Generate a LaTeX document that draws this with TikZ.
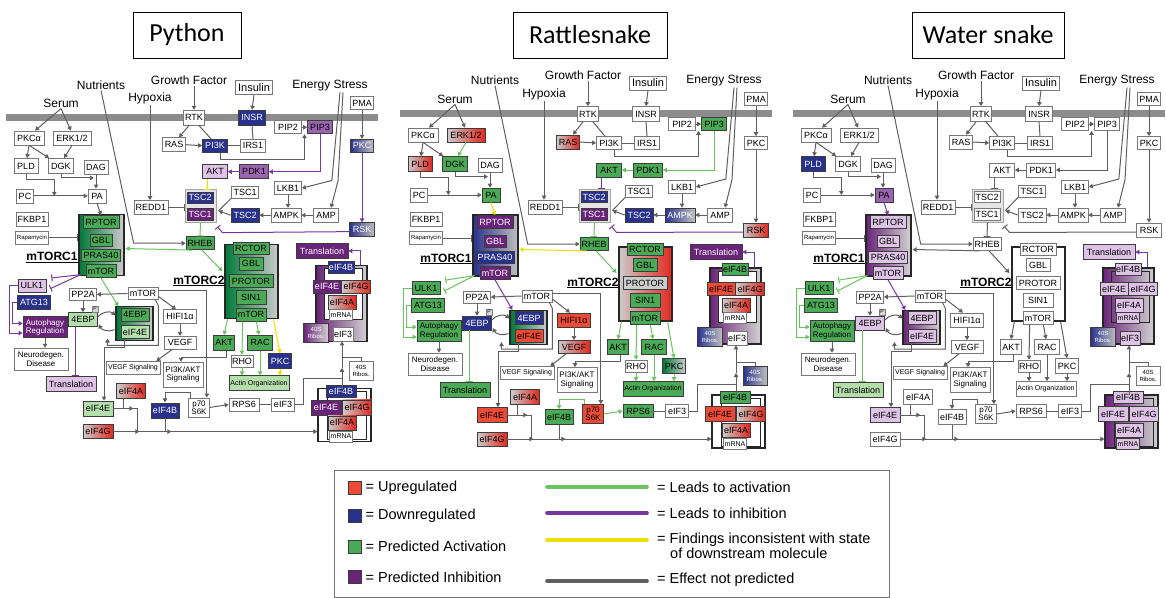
\documentclass[tikz,border=0pt]{standalone}
\usepackage{fontspec}
\setmainfont{Liberation Sans}
\newfontfamily\tfont{Carlito}
\usetikzlibrary{arrows.meta,calc}
\definecolor{cBord}{RGB}{120,120,120}
\definecolor{cDk}{RGB}{60,60,60}
\definecolor{cAct}{RGB}{75,170,85}
\definecolor{cActL}{RGB}{180,222,172}
\definecolor{cActD}{RGB}{0,120,55}
\definecolor{cDn}{RGB}{40,50,140}
\definecolor{cInh}{RGB}{105,35,120}
\definecolor{cInhM}{RGB}{155,100,175}
\definecolor{cInhL}{RGB}{222,195,230}
\definecolor{cUp}{RGB}{225,40,30}
\definecolor{cUpF}{RGB}{235,75,55}
\definecolor{cLine}{RGB}{95,95,95}
\definecolor{cG}{RGB}{105,195,95}
\definecolor{cP}{RGB}{120,55,160}
\definecolor{cY}{RGB}{235,225,0}
\definecolor{cBar}{RGB}{140,140,140}
\newcommand\fs[2]{\fontsize{#1}{#2}\selectfont}
\newcommand\pf{}
\newcommand\nd[6][]{\node[bx,minimum width=#4,minimum height=#5,#1,s#2/.try] (\pf#2) at (#3) {#6};}
\tikzset{
 bx/.style={draw=cBord,fill=white,line width=0.7pt,inner sep=1pt,font=\fs{9}{10},text=black},
 cx/.style={draw=black!85,fill=white,line width=1.1pt,inner sep=0pt},
 cxi/.style={draw=black!85,fill=white,line width=0.8pt,inner sep=0pt},
 lab/.style={font=\fs{12}{13},inner sep=1pt},
 act/.style={fill=cAct,draw=cDk},
 actl/.style={fill=cActL,draw=cDk},
 actg/.style={left color=cActD,right color=gray!40,draw=cDk},
 dn/.style={fill=cDn,draw=cDk,text=white},
 dng/.style={left color=cDn,right color=gray!50,draw=cDk,text=white},
 inh/.style={fill=cInh,draw=cDk,text=white},
 inhm/.style={fill=cInhM,draw=cDk},
 inhl/.style={fill=cInhL,draw=cDk},
 inhg/.style={left color=cInh,right color=gray!35,draw=cDk},
 up/.style={left color=gray!40,right color=cUp,draw=cDk},
 upf/.style={fill=cUpF,draw=cDk},
 ln/.style={draw=cLine,line width=1pt},
 ar/.style={ln,-{Triangle[length=4pt,width=4.5pt]}},
 tb/.style={ln,-{Bar[width=7pt]}},
 grn/.style={draw=cG},
 pur/.style={draw=cP},
 yel/.style={draw=cY},
 ptag/.style={draw=gray,fill=gray!30,inner sep=0.3pt,minimum size=6,font=\fs{5}{5}},
 sq/.style={draw=cDk,line width=0.8pt,minimum size=13,inner sep=0},
 ltx/.style={font=\fs{14.5}{15.5},anchor=west,inner sep=1pt},
 lg/.style={line width=3.6pt,line cap=round},
}
\newcommand\panelbody{%
\fill[cBar] (6,110) rectangle (378,117);
\node[lab] (\pf Nutr) at (101,80) {Nutrients};
\node[lab] (\pf Serum) at (61,99) {Serum};
\node[lab] (\pf Hyp) at (150,94) {Hypoxia};
\node[lab] (\pf GF) at (189,75) {Growth Factor};
\node[lab] (\pf ES) at (330,81) {Energy Stress};
\node[cx,draw=gray!70,fill=gray!20,line width=0.9pt,minimum width=31,minimum height=33] (\pf TSCc) at (200.5,205.5) {};
\node[cx,sC1/.try,draw=black!85,minimum width=45,minimum height=61] (\pf C1) at (101.5,245.5) {};
\node[cx,sC2/.try,draw=black!85,minimum width=53,minimum height=74] (\pf C2) at (251.5,284) {};
\node[cx,sC3/.try,draw=black!85,minimum width=37,minimum height=34] (\pf C3) at (134.5,327.5) {};
\node[cx,sCu/.try,draw=black!85,minimum width=51,minimum height=76] (\pf Cu) at (341.5,306) {};
\node[cxi,sCi/.try,minimum width=38,minimum height=51] (\pf Ci) at (343,296.5) {};
\node[cx,sCl/.try,draw=black!85,minimum width=53,minimum height=53] (\pf Cl) at (344.5,421.5) {};
\node[cxi,sCli/.try,minimum width=39,minimum height=48] (\pf Cli) at (346.5,422) {};
\nd{PKCa}{29,135}{30}{14}{PKCα}
\nd{ERK}{72,135}{38}{14}{ERK1/2}
\nd{PLD}{26,164}{24}{15}{PLD}
\nd{DGK}{61,164}{25}{15}{DGK}
\nd{DAG}{96,165}{24}{14}{DAG}
\nd{PC}{25,195}{17}{14}{PC}
\nd{PA}{97,195}{18}{14}{PA}
\nd{FKBP}{32,219}{32}{14}{FKBP1}
\nd[font=\fs{6}{7}]{Rapa}{32,238}{33}{13}{Rapamycin}
\nd{REDD}{151,207}{34}{14}{REDD1}
\nd{RTK}{194,114}{21}{15}{RTK}
\nd{RAS}{174,142}{23}{14}{RAS}
\nd{PIK}{215,143}{25}{13}{PI3K}
\nd{INSR}{252,114}{27}{15}{INSR}
\nd[font=\fs{11}{12}]{Ins}{254,83}{37}{14}{Insulin}
\nd{IRS}{253,143}{25}{13}{IRS1}
\nd{PIPa}{288,124}{27}{13}{PIP2}
\nd{PIPb}{320,124}{25}{13}{PIP3}
\nd{PMA}{362,99}{23}{13}{PMA}
\nd{PKC}{362,143}{23}{13}{PKC}
\nd{AKT}{215,170}{25}{14}{AKT}
\nd{PDK}{254,170}{29}{14}{PDK1}
\nd{LKB}{288,187}{27}{13}{LKB1}
\nd{TSCb}{245,191}{27}{12}{TSC1}
\nd{TSCd}{245,215}{28}{14}{TSC2}
\nd{AMPK}{286,215}{30}{14}{AMPK}
\nd{AMP}{326,215}{25}{14}{AMP}
\nd{RSK}{362,230}{25}{14}{RSK}
\nd{TSCx}{200,197}{26}{11}{TSC2}
\nd{TSCy}{200,214}{26}{12}{TSC1}
\nd{RHEB}{200,244}{28}{13}{RHEB}
\nd{RPTOR}{101,222}{36}{13}{RPTOR}
\nd{GBL}{101,241}{22}{12}{GBL}
\nd{PRAS}{101,257}{39}{12}{PRAS40}
\nd{MTa}{101,273}{30}{13}{mTOR}
\node[font=\fs{12}{13}\bfseries,inner sep=1pt] (\pf LA) at (52,259) {\underline{mTORC1}};
\nd{RCTOR}{251,249}{36}{12}{RCTOR}
\nd{GBLb}{251,265}{24}{13}{GBL}
\nd{PROTOR}{251,283}{44}{13}{PROTOR}
\nd{SIN}{251,300}{30}{14}{SIN1}
\nd{MTb}{251,318}{30}{13}{mTOR}
\node[font=\fs{12}{13}\bfseries,inner sep=1pt] (\pf LB) at (199,283) {\underline{mTORC2}};
\nd{ULK}{32,288}{28}{13}{ULK1}
\nd{ATG}{34,305}{33}{14}{ATG13}
\nd[font=\fs{8}{8.5},align=center]{Aut}{45,331}{44}{21}{Autophagy\\Regulation}
\nd[font=\fs{8}{8.5},align=center]{Neuro}{41,364}{54}{22}{Neurodegen.\\Disease}
\nd{PP}{83,297}{27}{12}{PP2A}
\nd{MTw}{143,296}{30}{12}{mTOR}
\nd{EBPp}{83,323}{29}{14}{4EBP}
\node[ptag] (\pf Ptag) at (95,312) {P};
\nd{EBPc}{135,318}{28}{13}{4EBP}
\nd{EEc}{135,336}{28}{13}{eIF4E}
\nd{TrA}{71,390}{50}{15}{Translation}
\nd{HIF}{180,320}{33}{14}{HIFI1α}
\nd{VEGF}{180,347}{32}{13}{VEGF}
\nd[font=\fs{7}{8}]{VS}{133,373}{54}{13}{VEGF Signaling}
\nd[font=\fs{8}{8.5},align=center]{PIAS}{183,380}{40}{25}{PI3K/AKT\\Signaling}
\nd{AKTb}{224,347}{21}{15}{AKT}
\nd{RHO}{242,366}{22}{12}{RHO}
\nd{RAC}{260,347}{25}{15}{RAC}
\nd{PKCb}{280,366}{23}{15}{PKC}
\nd[font=\fs{7}{8}]{Actin}{259,389}{60}{15}{Actin Organization}
\nd{RPS}{244,411}{30}{13}{RPS6}
\nd{EIFc}{283,411}{23}{13}{eIF3}
\nd[font=\fs{8}{8},align=center]{p70}{199,414}{21}{19}{p70\\S6K}
\nd{EEa}{98,415}{30}{15}{eIF4E}
\nd{EGa}{98,439}{30}{14}{eIF4G}
\nd{EAa}{131,397}{29}{15}{eIF4A}
\nd{EBa}{165,417}{28}{15}{eIF4B}
\nd[font=\fs{6}{6.5},align=center]{RibB}{361,376}{24}{19}{40S\\Ribos.}
\nd{EBu}{341,269}{26}{12}{eIF4B}
\nd{EEu}{327,289}{28}{13}{eIF4E}
\nd{EGu}{356,289}{29}{13}{eIF4G}
\nd{EAu}{342,305}{28}{14}{eIF4A}
\nd[font=\fs{7}{8}]{MRu}{341,318}{23}{11}{mRNA}
\nd[font=\fs{6}{6.5},align=center]{RibA}{316,337}{25}{19}{40S\\Ribos.}
\nd{EIFu}{343,338}{20}{14}{eIF3}
\nd{TrB}{322,252}{52}{15}{Translation}
\nd{EBl}{341,397}{30}{12}{eIF4B}
\nd{EEl}{326,414}{30}{15}{eIF4E}
\nd{EGl}{357,414}{29}{15}{eIF4G}
\nd{EAl}{342,430}{28}{14}{eIF4A}
\nd[font=\fs{7}{8}]{MRl}{341,444}{23}{11}{mRNA}
% connectors
\draw[ar] (\pf Serum.south) -- ($(\pf PKCa.north)+(6,0)$);
\draw[ar] (\pf Serum.south) -- ($(\pf ERK.north)+(-1,0)$);
\draw[ar] (\pf PKCa.south) -- ($(\pf PLD.north)+(1,0)$);
\draw[ar] (\pf PKCa.south) -- ($(\pf DGK.north west)+(1,0)$);
\draw[ar,lERK/.try] (\pf ERK.south) -- ($(\pf DGK.north)+(3,0)$);
\draw[ar] (\pf PLD.south) -- ++(0,6) -| ($(\pf PC.east)!0.38!(\pf PA.west)$);
\draw[ar] (\pf DGK.south) |- ($(\pf PA.north)+(-3,-11)$);
\draw[ar] (\pf DAG.south) -- (\pf DAG.south |- \pf PA.north);
\draw[ar] (\pf PC.east) -- (\pf PA.west);
\draw[ar,lPA/.try] (\pf PA.south) -- (\pf RPTOR.north);
\draw[tb] (\pf Rapa.east) -- (\pf Rapa.east -| \pf C1.west);
\draw[ar] (\pf Nutr.south) -- ($(\pf RHEB.west)+(-52,0)$) -- (\pf RHEB.west);
\draw[ar] (\pf Hyp.south) -- (\pf Hyp.south |- \pf REDD.north);
\draw[tb] (\pf REDD.east) -- (\pf REDD.east -| \pf TSCc.west);
\draw[ar] (\pf GF.south -| \pf RTK.north) -- (\pf RTK.north);
\draw[ar] ($(\pf RTK.south)+(-5,0)$) -- ($(\pf RAS.north)+(5,0)$);
\draw[ln] ($(\pf RTK.south)+(5,0)$) -- ($(\pf PIK.north)+(-4,0)$);
\draw[ar] (\pf RAS.east) -- (\pf PIK.west);
\draw[ar] (\pf Ins.south) -- (\pf INSR.north);
\draw[ln] (\pf INSR.south) -- (\pf IRS.north);
\draw[ln] (\pf PIK.east) -- (\pf IRS.west);
\draw[ar] ($(\pf PIK.south)+(5,0)$) -- ++(0,7) -| ($(\pf PIPa.south east)!0.5!(\pf PIPb.south west)$);
\draw[ar] (\pf PIPa.east) -- (\pf PIPb.west);
\draw[ar,lPIP/.try] (\pf PIPb.south) |- (\pf PDK.east);
\draw[ar,lPDK/.try] (\pf PDK.west) -- (\pf AKT.east);
\draw[tb,lAKT/.try] ($(\pf AKT.south)+(-8,0)$) -- ++(0,11.5);
\draw[ar] (\pf PMA.south) -- (\pf PKC.north);
\draw[ar,lPKC/.try] (\pf PKC.south) -- (\pf RSK.north);
\draw[tb,lRSK/.try] ($(\pf RSK.west)+(0,2)$) -- ($(\pf TSCc.south east)+(6,10)$) -- ($(\pf TSCc.south east)+(1,4)$);
\draw[ar] ($(\pf ES.south)+(10,0)$) -- ($(\pf LKB.east)+(30,-8)$) -- (\pf LKB.east);
\draw[ar] ($(\pf ES.south)+(13,0)$) -- ($(\pf AMP.north)+(12,-28)$) -- ($(\pf AMP.north)+(5,0)$);
\draw[ar] (\pf LKB.south) -- (\pf LKB.south |- \pf AMPK.north);
\draw[ar] (\pf AMP.west) -- (\pf AMPK.east);
\draw[ar] (\pf AMPK.west) -- (\pf TSCd.east);
\draw[ln] (\pf TSCb.south west) -- ($(\pf TSCc.east)+(2,5)$);
\draw[ar] (\pf TSCd.west) -- ($(\pf TSCc.east)+(2,5)$);
\draw[tb,lTSC/.try] (\pf TSCc.south) -- (\pf RHEB.north);
\draw[ar,lRH1/.try] ($(\pf RHEB.south west)+(7,0)$) -- ($(\pf C1.east)+(1,4)$);
\draw[ar,lRH2/.try] ($(\pf RHEB.south)+(2,0)$) -- ($(\pf C2.west)+(-2,-11)$);
\draw[tb,lULK/.try] ($(\pf C1.south west)+(2,-1)$) -- ($(\pf ULK.north east)+(5,-1)$);
\draw[tb,lULK/.try] ($(\pf C1.south west)+(2,-1)$) -- ($(\pf ULK.east)+(4,3)$);
\draw[ar,lULK2/.try] (\pf ULK.west) -- ++(-8,0) |- ($(\pf Aut.west)+(0,6)$);
\draw[ar,lULK2/.try] (\pf ATG.west) -- ++(-5,0) |- ($(\pf Aut.west)+(0,-4)$);
\draw[ar] (\pf Aut.south) -- (\pf Aut.south |- \pf Neuro.north);
\draw[ar] (\pf MTw.west) -- (\pf PP.east);
\draw[ar] (\pf PP.south) -- (\pf EBPp.north);
\draw[ar,lmT/.try] (\pf MTa.south) -- ($(\pf C3.north west)+(3,0)$);
\draw[ar] ($(\pf EBPp.east)+(0,-3)$) to[bend left=45] ($(\pf C3.west)+(0,-9)$);
\draw[ar] ($(\pf C3.west)+(-1,6)$) to[bend left=45] ($(\pf EBPp.east)+(1,5)$);
\draw[ar] ($(\pf MTw.south east)+(-3,0)$) -- ++(3,6) |- ($(\pf C3.south west)+(-8,4)$) -- ++(0,-7);
\draw[ar] ($(\pf EEc.south)+(-11,0)$) -- ++(0,9) -| ($(\pf EEa.north)+(6,0)$);
\draw[tb,lTr/.try] ($(\pf EBPp.south)+(-8,0)$) -- ($(\pf TrA.north)+(4,0)$);
\draw[ar] ($(\pf MTw.east)+(0,3)$) -- ($(\pf HIF.north)+(-4,0)$);
\draw[ar] (\pf HIF.south) -- (\pf VEGF.north);
\draw[ar] ($(\pf VEGF.south)+(-8,0)$) -- ($(\pf VS.north east)+(-4,0)$);
\draw[ar] ($(\pf MTw.east)+(0,-3)$) -| ($(\pf p70.north east)+(-3,0)$);
\draw[ar,lC2a/.try] ($(\pf C2.south west)+(3,0)$) -- (\pf AKTb.north);
\draw[ar,lC2b/.try] ($(\pf MTb.south west)+(7,0)$) -- (\pf RHO.north);
\draw[ar,lC2c/.try] ($(\pf MTb.south east)+(-10,0)$) -- ($(\pf RAC.north)+(-1,0)$);
\draw[ar,lC2d/.try] ($(\pf C2.south east)+(-5,0)$) -- (\pf PKCb.north);
\draw[ar,lAc1/.try] (\pf RHO.south) -- (\pf RHO.south |- \pf Actin.north);
\draw[ar,lAc2/.try] (\pf RAC.south) -- (\pf RAC.south |- \pf Actin.north);
\draw[ar,lAc3/.try] (\pf PKCb.south) -- (\pf PKCb.south |- \pf Actin.north);
\draw[ar] ($(\pf AKTb.south)+(2,0)$) -- ++(0,7) -| ($(\pf PIAS.north)+(-2,0)$);
\draw[ar,lp70/.try] (\pf p70.east) -- (\pf RPS.west);
\draw[ln] (\pf RPS.east) -- (\pf EIFc.west);
\coordinate (\pf vb) at (342,395);
\coordinate (\pf vm) at (342,373);
\draw[ar] (\pf vb) -- (\pf vm);
\draw[ar] (\pf vm) -- (\pf EIFu.south -| \pf vm);
\draw[ln] (\pf EIFc.east) -- ++(9,0) |- ($(\pf vb)+(0,-11)$);
\draw[ln] (\pf RibB.north) |- ($(\pf vm)+(0,-11)$);
\draw[ar,lTr2/.try] ($(\pf Cu.north east)+(-7,0)$) |- (\pf TrB.east);
\draw[ar] (\pf EGa.east) -- ++(26,0);
\draw[ar] ($(\pf EGa.east)+(24,0)$) -- ++(34,0);
\draw[ar] ($(\pf EGa.east)+(56,0)$) -- (\pf EGa.east -| \pf Cl.west);
\draw[ar] (\pf EEa.east) -- ++(20,0);
\draw[ln] ($(\pf EEa.east)+(18,0)$) -- ++(6,0) -- ++(0,24);
\draw[ln] ($(\pf EAa.south)+(-8,0)$) -- ++(0,10);
\draw[ln] (\pf EBa.south) -- ++(0,14);
\draw[ar,lp70b/.try] ($(\pf p70.north west)+(2,0)$) -- ++(0,-5) -| (\pf EBa.north);
}
\begin{document}
\begin{tikzpicture}[x=1pt,y=-1pt]
\useasboundingbox (0,0) rectangle (1166,597);
% titles
\node[draw=black,line width=0.8pt,minimum width=108,minimum height=46,font=\tfont\fs{26}{28}] (tP) at (187,35) {Python};
\node[draw=black,line width=0.8pt,minimum width=154,minimum height=46,font=\tfont\fs{26}{28}] (tR) at (590,35) {Rattlesnake};
\node[draw=black,line width=0.8pt,minimum width=152,minimum height=46,font=\tfont\fs{26}{28}] (tW) at (988,35) {Water snake};
% Python
\begin{scope}[yshift=-7.55pt,yscale=0.966,
 sPIK/.style=dn, sINSR/.style=dn, sPIPb/.style=inhm, sPKC/.style=dng, sAKT/.style=inhl, sPDK/.style=inhm,
 sTSCx/.style=dn, sTSCy/.style=inh, sTSCd/.style=dn, sRSK/.style=dng, sRHEB/.style=act,
 sC1/.style=actg, sRPTOR/.style=act, sGBL/.style=act, sPRAS/.style=act, sMTa/.style=act,
 sULK/.style=inhl, sATG/.style=dn, sAut/.style=inh, sEBPp/.style=actl, sC3/.style=actg, sEBPc/.style=act, sEEc/.style=actl,
 sTrA/.style=inhl, sC2/.style=actg, sRCTOR/.style=act, sGBLb/.style=act, sPROTOR/.style=act, sSIN/.style=act, sMTb/.style=act,
 sAKTb/.style=act, sRAC/.style=act, sPKCb/.style=dn, sActin/.style=actl,
 sEAa/.style=up, sEEa/.style=actl, sEGa/.style=up, sEBa/.style=dn,
 sCu/.style=inhg, sEBu/.style=dn, sEEu/.style=inh, sEGu/.style=up, sEAu/.style=up, sRibA/.style={inhg,text=white}, sTrB/.style=inh,
 sEBl/.style=dn, sEEl/.style=inh, sEGl/.style=up, sEAl/.style=up,
 lAKT/.style=yel, lPIP/.style=pur, lPDK/.style=pur, lPKC/.style=pur, lRSK/.style=pur, lTSC/.style=grn, lRH1/.style=grn, lRH2/.style=grn,
 lULK/.style=pur, lULK2/.style=pur, lmT/.style=grn, lTr/.style=pur, lC2a/.style=grn, lC2b/.style=grn, lC2c/.style=grn, lC2d/.style=yel,
 lAc1/.style=grn, lAc2/.style=grn, lAc3/.style=yel, lTr2/.style=pur]
\renewcommand\pf{P}
\panelbody
\end{scope}
% Rattlesnake
\begin{scope}[xshift=394pt,
 sERK/.style=up, sPLD/.style=up, sDGK/.style=act, sPA/.style=act, sRAS/.style=up, sPIPb/.style=act, sAKT/.style=act, sPDK/.style=act,
 sTSCx/.style=dn, sTSCy/.style=inh, sTSCd/.style=dn, sAMPK/.style=dng, sRSK/.style=up, sRHEB/.style=act,
 sC1/.style=dng, sRPTOR/.style=inh, sGBL/.style=inh, sPRAS/.style=dn, sMTa/.style=inh,
 sULK/.style=act, sATG/.style=act, sAut/.style=act, sEBPp/.style=dn, sC3/.style=actg, sEBPc/.style=dn, sEEc/.style=upf,
 sTrA/.style=act, sHIF/.style=upf, sVEGF/.style=up, sC2/.style=up, sRCTOR/.style=act, sGBLb/.style=act,
 sPROTOR/.style={fill=gray!40,draw=cDk}, sSIN/.style=act, sMTb/.style=act,
 sAKTb/.style=act, sRAC/.style=act, sPKCb/.style=actg, sActin/.style=act,
 sEAa/.style=up, sEEa/.style=upf, sEGa/.style=up, sEBa/.style=act, sp70/.style=upf, sRPS/.style=act, sRibB/.style=dng,
 sCu/.style=inhg, sEBu/.style=act, sEEu/.style=upf, sEGu/.style=up, sEAu/.style=up, sRibA/.style=dng, sTrB/.style=inh,
 sEBl/.style=act, sEEl/.style=upf, sEGl/.style=up, sEAl/.style=up,
 lERK/.style=grn, lPA/.style=yel, lPIP/.style=grn, lPDK/.style=grn, lAKT/.style=pur, lRSK/.style=pur, lTSC/.style=grn,
 lRH1/.style=yel, lRH2/.style=grn, lULK/.style=grn, lULK2/.style=grn, lmT/.style=pur, lTr/.style=grn,
 lC2a/.style=grn, lC2b/.style=grn, lC2c/.style=grn, lC2d/.style=grn, lAc1/.style=grn, lAc2/.style=grn, lAc3/.style=grn,
 lp70/.style=grn, lp70b/.style=grn, lTr2/.style=pur]
\renewcommand\pf{R}
\panelbody
\end{scope}
% Water snake
\begin{scope}[xshift=787pt,
 sPLD/.style=dn, sPA/.style=inhm, sC1/.style=inhg, sRPTOR/.style=inhl, sGBL/.style=inhl, sPRAS/.style=inhl, sMTa/.style=inhl,
 sULK/.style=act, sATG/.style=act, sAut/.style=act, sEBPp/.style=inhl, sC3/.style=inhg, sEBPc/.style=inhl, sEEc/.style=inhl,
 sTrA/.style=actl, sEEa/.style=inhl,
 sCu/.style=inhg, sCi/.style={fill=none}, sEBu/.style=inhl, sEEu/.style=inhl, sEGu/.style=inhl, sEAu/.style=inhl, sMRu/.style=inhl,
 sEIFu/.style=inhl, sRibA/.style=dng, sTrB/.style=inhl,
 sCl/.style=inhg, sCli/.style={fill=none}, sEBl/.style=inhl, sEEl/.style=inhl, sEGl/.style=inhl, sEAl/.style=inhl, sMRl/.style=inhl,
 lPA/.style=pur, lULK/.style=grn, lULK2/.style=grn, lmT/.style=pur, lTr/.style=grn, lTr2/.style=pur]
\renewcommand\pf{W}
\panelbody
\end{scope}
% legend
\node[draw=black!55,line width=0.8pt,minimum width=555,minimum height=127,inner sep=0,anchor=north west] (leg) at (334,469.5) {};
\node[sq,fill=cUpF] (q1) at (355,487.5) {};
\node[sq,fill=cDn] (q2) at (355,516) {};
\node[sq,fill=cAct] (q3) at (355,546.5) {};
\node[sq,fill=cInh] (q4) at (355,577) {};
\node[ltx] (t1) at ($(q1.east)+(2.5,0)$) {= Upregulated};
\node[ltx] (t2) at ($(q2.east)+(2.5,0)$) {= Downregulated};
\node[ltx] (t3) at ($(q3.east)+(2.5,0)$) {= Predicted Activation};
\node[ltx] (t4) at ($(q4.east)+(2.5,0)$) {= Predicted Inhibition};
\coordinate (g1a) at (547,487); \coordinate (g1b) at (647,487);
\coordinate (g2a) at (547,513); \coordinate (g2b) at (647,513);
\coordinate (g3a) at (547,540); \coordinate (g3b) at (647,540);
\coordinate (g4a) at (547,581); \coordinate (g4b) at (647,581);
\draw[lg,draw=cG] (g1a) -- (g1b);
\draw[lg,draw=cP] (g2a) -- (g2b);
\draw[lg,draw=cY] (g3a) -- (g3b);
\draw[lg,draw=cLine] (g4a) -- (g4b);
\node[ltx] (u1) at (656,487) {= Leads to activation};
\node[ltx] (u2) at (656,513) {= Leads to inhibition};
\node[ltx] (u3) at (656,540) {= Findings inconsistent with state};
\node[ltx] (u3b) at (669,553) {of downstream molecule};
\node[ltx] (u4) at (656,580) {= Effect not predicted};
\end{tikzpicture}
\end{document}
